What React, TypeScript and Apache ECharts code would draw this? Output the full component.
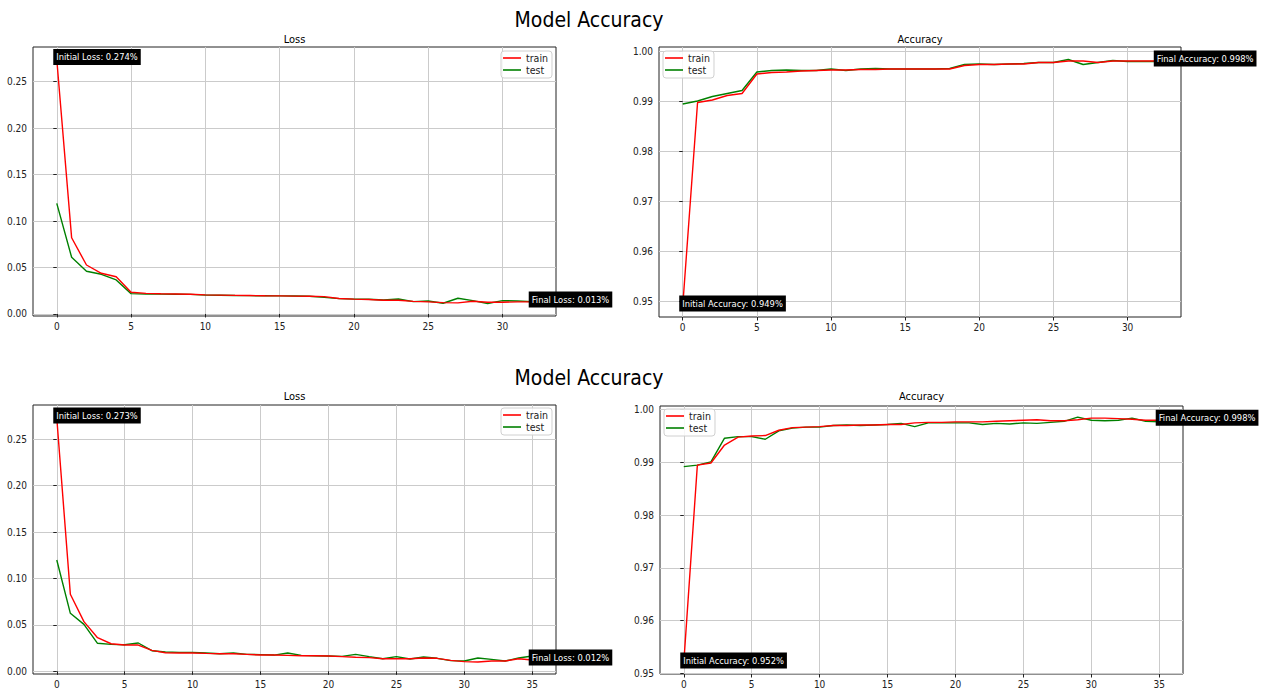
import React, { useEffect, useRef } from "react";
import * as echarts from "echarts";

// ---------- data ----------
const lossTrain1 = [0.274, 0.082, 0.0527, 0.0438, 0.04, 0.0233, 0.0222, 0.0218, 0.0215, 0.0212, 0.0205, 0.0203, 0.02, 0.0198, 0.0196, 0.0195, 0.0192, 0.019, 0.0187, 0.0167, 0.016, 0.0156, 0.0147, 0.0147, 0.0135, 0.013, 0.0122, 0.0119, 0.0137, 0.0126, 0.0126, 0.013, 0.013];
const lossTest1 = [0.119, 0.061, 0.046, 0.0427, 0.0366, 0.0219, 0.0215, 0.0213, 0.0212, 0.0211, 0.0203, 0.0202, 0.0198, 0.0197, 0.0196, 0.0195, 0.0193, 0.019, 0.0179, 0.0165, 0.016, 0.0158, 0.015, 0.0161, 0.0133, 0.014, 0.0115, 0.0169, 0.0144, 0.0112, 0.0144, 0.014, 0.0133];
const accTrain1 = [0.949, 0.9897, 0.9902, 0.9911, 0.9915, 0.9954, 0.9957, 0.9958, 0.996, 0.9961, 0.9962, 0.9962, 0.9963, 0.9963, 0.9964, 0.9964, 0.9964, 0.9964, 0.9964, 0.9971, 0.9973, 0.9973, 0.9974, 0.9974, 0.9977, 0.9977, 0.998, 0.998, 0.9977, 0.998, 0.998, 0.998, 0.998];
const accTest1 = [0.9894, 0.99, 0.9909, 0.9915, 0.9921, 0.9958, 0.9961, 0.9962, 0.9961, 0.9961, 0.9964, 0.9961, 0.9964, 0.9965, 0.9964, 0.9964, 0.9964, 0.9964, 0.9965, 0.9973, 0.9974, 0.9973, 0.9974, 0.9975, 0.9977, 0.9977, 0.9983, 0.9973, 0.9977, 0.9981, 0.9979, 0.9979, 0.9979];

const lossTrain2 = [0.273, 0.083, 0.0535, 0.0362, 0.0297, 0.0283, 0.0283, 0.0225, 0.02, 0.0197, 0.0197, 0.0193, 0.019, 0.019, 0.0183, 0.0175, 0.0175, 0.0172, 0.0168, 0.0168, 0.0165, 0.0158, 0.0151, 0.0147, 0.0136, 0.0136, 0.0136, 0.0143, 0.014, 0.0118, 0.0104, 0.01, 0.0111, 0.0111, 0.0136, 0.0122];
const lossTest2 = [0.12, 0.0625, 0.0506, 0.0302, 0.029, 0.0287, 0.0305, 0.0222, 0.0208, 0.0204, 0.0204, 0.0197, 0.019, 0.0197, 0.0183, 0.018, 0.0175, 0.0197, 0.0172, 0.0168, 0.0165, 0.0161, 0.0183, 0.0158, 0.0136, 0.0158, 0.0133, 0.0154, 0.014, 0.0115, 0.0111, 0.0143, 0.0129, 0.0111, 0.0143, 0.0165];
const accTrain2 = [0.952, 0.9895, 0.9899, 0.9933, 0.9948, 0.995, 0.9951, 0.9961, 0.9966, 0.9967, 0.9968, 0.997, 0.997, 0.9971, 0.9971, 0.9972, 0.9972, 0.9975, 0.9976, 0.9976, 0.9977, 0.9977, 0.9977, 0.9978, 0.9979, 0.998, 0.9981, 0.9979, 0.9979, 0.9981, 0.9984, 0.9984, 0.9983, 0.9982, 0.998, 0.998];
const accTest2 = [0.9892, 0.9895, 0.9901, 0.9946, 0.9949, 0.9949, 0.9944, 0.996, 0.9965, 0.9967, 0.9967, 0.997, 0.9971, 0.997, 0.9971, 0.9972, 0.9974, 0.9968, 0.9975, 0.9975, 0.9975, 0.9975, 0.9972, 0.9974, 0.9973, 0.9975, 0.9974, 0.9976, 0.9978, 0.9986, 0.998, 0.9979, 0.998, 0.9984, 0.9978, 0.9977];

// tick values
const xTicks1 = [0, 5, 10, 15, 20, 25, 30];
const xTicks2 = [0, 5, 10, 15, 20, 25, 30, 35];
const lossTicks = [0, 0.05, 0.1, 0.15, 0.2, 0.25];
const accTicks = [0.95, 0.96, 0.97, 0.98, 0.99, 1.0];

const figureTitle = "Model Accuracy";
const lossTitle = "Loss";
const accTitle = "Accuracy";
const legendNames = ["train", "test"];

const FONT = "'Liberation Sans Narrow', 'DejaVu Sans Condensed', 'Liberation Sans', sans-serif";
const RED = "#ff0000";
const GREEN = "#008000";

type Panel = {
  train: number[];
  test: number[];
  kind: "Loss" | "Accuracy";
  grid: { left: number; top: number; width: number; height: number };
  x: [number, number];
  y: [number, number];
  xTicks: number[];
  yTicks: number[];
  yStep: number;
  legendPos: any;
};

const panels: Panel[] = [
  { train: lossTrain1, test: lossTest1, kind: "Loss", grid: { left: 33, top: 47, width: 523, height: 269 }, x: [-1.6, 33.6], y: [-0.0022, 0.2874], xTicks: xTicks1, yTicks: lossTicks, yStep: 0.05, legendPos: { right: 711, top: 51 } },
  { train: accTrain1, test: accTest1, kind: "Accuracy", grid: { left: 659, top: 47, width: 522, height: 270 }, x: [-1.6, 33.6], y: [0.9468, 1.0008], xTicks: xTicks1, yTicks: accTicks, yStep: 0.01, legendPos: { left: 663, top: 51 } },
  { train: lossTrain2, test: lossTest2, kind: "Loss", grid: { left: 33, top: 405, width: 523, height: 269 }, x: [-1.75, 36.75], y: [-0.0029, 0.287], xTicks: xTicks2, yTicks: lossTicks, yStep: 0.05, legendPos: { right: 711, top: 408 } },
  { train: accTrain2, test: accTest2, kind: "Accuracy", grid: { left: 660, top: 406, width: 523, height: 268 }, x: [-1.75, 36.75], y: [0.9499, 1.0007], xTicks: xTicks2, yTicks: accTicks, yStep: 0.01, legendPos: { left: 664, top: 409 } },
];

const isMultiple = (v: number, step: number) => Math.abs(v / step - Math.round(v / step)) < 1e-6;

export default function App() {
  const ref = useRef<HTMLDivElement>(null);
  useEffect(() => {
    if (!ref.current) return;
    const chart = echarts.init(ref.current, null, { renderer: "svg" });

    const grid: any[] = [];
    const xAxis: any[] = [];
    const yAxis: any[] = [];
    const series: any[] = [];
    const legend: any[] = [];

    panels.forEach((p, i) => {
      grid.push({ ...p.grid, show: true, borderColor: "#222", borderWidth: 1, backgroundColor: "#fff", containLabel: false, outerBoundsMode: "none" });
      xAxis.push({
        type: "value", gridIndex: i, min: p.x[0], max: p.x[1], minInterval: 5, maxInterval: 5,
        axisLine: { show: false },
        axisTick: { show: true, length: 3.5, customValues: p.xTicks, lineStyle: { color: "#222", width: 1 } },
        axisLabel: { margin: 5, color: "#222", fontSize: 10, fontFamily: FONT, customValues: p.xTicks, formatter: (v: number) => (isMultiple(v, 5) ? String(Math.round(v)) : "") },
        splitLine: { show: true, lineStyle: { color: "#cbcbcb", width: 1 } },
      });
      yAxis.push({
        type: "value", gridIndex: i, min: p.y[0], max: p.y[1], minInterval: p.yStep, maxInterval: p.yStep,
        axisLine: { show: false },
        axisTick: { show: true, length: 3.5, customValues: p.yTicks, lineStyle: { color: "#222", width: 1 } },
        axisLabel: { margin: 6, color: "#222", fontSize: 10, fontFamily: FONT, customValues: p.yTicks, formatter: (v: number) => (isMultiple(v, p.yStep) ? v.toFixed(2) : "") },
        splitLine: { show: true, lineStyle: { color: "#cbcbcb", width: 1 } },
      });
      const last = p.train.length - 1;
      const label = (txt: string) => ({
        show: true, formatter: txt, position: "right", distance: 0, offset: [-4, -2.5],
        backgroundColor: "#000", color: "#fff", padding: [4, 3, 3, 3], fontSize: 9.3, fontFamily: FONT,
      });
      series.push({
        name: "train", type: "line", xAxisIndex: i, yAxisIndex: i,
        data: p.train.map((v, k) => [k, v]), showSymbol: false, symbol: "none",
        lineStyle: { color: RED, width: 1.4 }, itemStyle: { color: RED }, z: 3,
        markPoint: {
          symbol: "circle", symbolSize: 1, itemStyle: { color: "rgba(0,0,0,0)" },
          data: [
            { coord: [0, p.train[0]], label: label(`Initial ${p.kind}: ${p.train[0].toFixed(3)}%`) },
            { coord: [last, p.train[last]], label: label(`Final ${p.kind}: ${p.train[last].toFixed(3)}%`) },
          ],
        },
      });
      series.push({
        name: "test", type: "line", xAxisIndex: i, yAxisIndex: i,
        data: p.test.map((v, k) => [k, v]), showSymbol: false, symbol: "none",
        lineStyle: { color: GREEN, width: 1.4 }, itemStyle: { color: GREEN }, z: 2,
      });
      legend.push({
        ...p.legendPos, orient: "vertical", data: legendNames.map((n) => ({ name: n, icon: "rect" })),
        itemWidth: 18, itemHeight: 1.6, itemGap: 0, padding: [1, 4, 2, 2],
        textStyle: { fontSize: 10.5, fontFamily: FONT, color: "#222", lineHeight: 12 },
        backgroundColor: "rgba(255,255,255,0.85)", borderColor: "#d0d0d0", borderWidth: 1, borderRadius: 3,
        selectedMode: false,
      });
    });

    const text = (t: string, x: number, y: number, size: number) => ({
      type: "text", x, y, style: { text: t, fontSize: size, fontFamily: FONT, fill: "#000", align: "center", verticalAlign: "middle" },
    });

    chart.setOption({
      animation: false,
      backgroundColor: "#fff",
      grid, xAxis, yAxis, series, legend,
      graphic: [
        text(figureTitle, 589, 20, 21),
        text(lossTitle, panels[0].grid.left + panels[0].grid.width / 2, 39, 11),
        text(accTitle, panels[1].grid.left + panels[1].grid.width / 2, 39, 11),
        text(figureTitle, 589, 378, 21),
        text(lossTitle, panels[2].grid.left + panels[2].grid.width / 2, 396, 11),
        text(accTitle, panels[3].grid.left + panels[3].grid.width / 2, 396, 11),
      ],
    });
    return () => chart.dispose();
  }, []);
  return <div ref={ref} style={{ position: "absolute", left: 0, top: 0, width: 1263, height: 690 }} />;
}
